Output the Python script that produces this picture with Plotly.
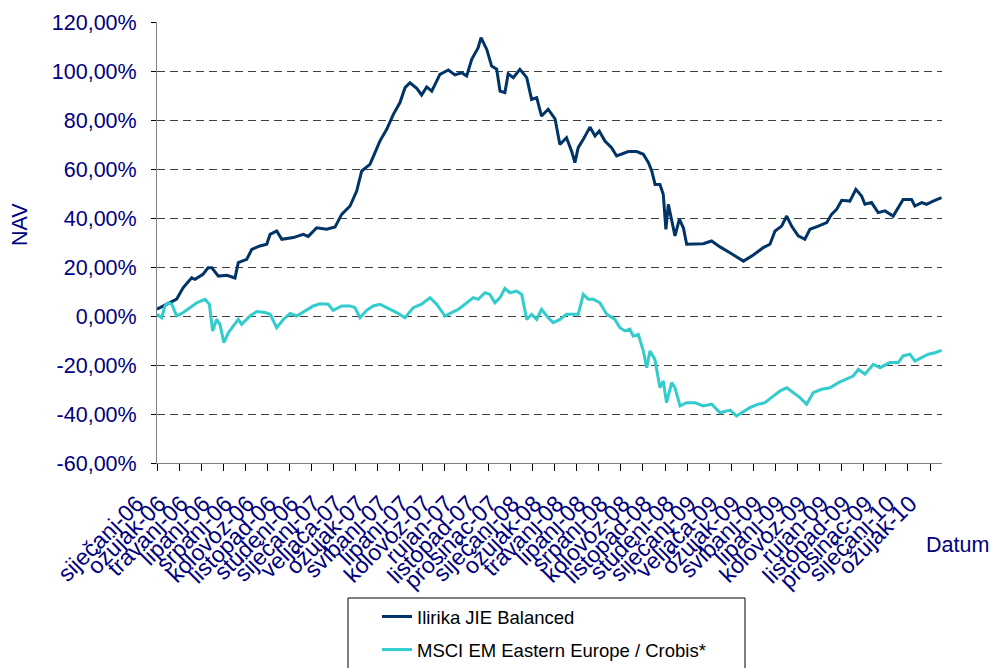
import plotly.graph_objects as go

# x positions are in units of the category tick spacing (tick i = label i)
tick_labels = ["siječanj-06", "ožujak-06", "travanj-06", "lipanj-06", "srpanj-06", "kolovoz-06",
               "listopad-06", "studeni-06", "siječanj-07", "veljača-07", "ožujak-07", "svibanj-07",
               "lipanj-07", "kolovoz-07", "rujan-07", "listopad-07", "prosinac-07", "siječanj-08",
               "ožujak-08", "travanj-08", "lipanj-08", "srpanj-08", "kolovoz-08", "listopad-08",
               "studeni-08", "siječanj-09", "veljača-09", "ožujak-09", "svibanj-09", "lipanj-09",
               "kolovoz-09", "rujan-09", "listopad-09", "prosinac-09", "siječanj-10", "ožujak-10"]

ilirika_x = [0.0, 0.59, 0.89, 1.19, 1.57, 1.72, 2.08, 2.31, 2.48, 2.78, 3.16, 3.53, 3.68, 4.06, 4.29,
             4.66, 4.97, 5.12, 5.42, 5.65, 6.17, 6.62, 6.85, 7.23, 7.68, 8.06, 8.36, 8.74, 9.04, 9.27,
             9.64, 9.87, 10.09, 10.40, 10.70, 11.00, 11.23, 11.45, 11.76, 11.98, 12.21, 12.44, 12.81,
             13.19, 13.49, 13.79, 14.02, 14.25, 14.54, 14.67, 14.93, 15.15, 15.38, 15.53, 15.75, 15.90,
             16.13, 16.43, 16.74, 16.96, 17.19, 17.41, 17.71, 18.02, 18.24, 18.54, 18.77, 18.92, 19.07,
             19.30, 19.60, 19.83, 20.02, 20.28, 20.58, 20.81, 21.04, 21.34, 21.72, 22.02, 22.25, 22.40,
             22.55, 22.77, 22.92, 23.04, 23.15, 23.30, 23.45, 23.65, 23.83, 23.98, 24.43, 24.73, 25.11,
             25.49, 25.94, 26.32, 26.55, 27.00, 27.45, 27.75, 27.98, 28.28, 28.51, 28.73, 29.03, 29.33,
             29.56, 29.94, 30.32, 30.54, 30.77, 31.00, 31.37, 31.64, 31.90, 32.05, 32.35, 32.65, 32.96,
             33.33, 33.56, 33.78, 34.16, 34.31, 34.62, 34.84, 35.14, 35.52]
ilirika_y = [2.8, 5.4, 6.9, 11.6, 15.6, 15.0, 17.0, 19.7, 19.7, 16.3, 16.6, 15.5, 21.8, 23.1, 27.2,
             28.6, 29.3, 33.3, 34.7, 31.3, 32.0, 33.3, 32.5, 36.0, 35.4, 36.3, 41.5, 44.9, 51.0, 59.2,
             61.9, 66.7, 71.4, 76.2, 82.3, 87.1, 93.2, 95.2, 92.9, 90.2, 93.5, 91.8, 98.6,
             100.4, 98.4, 99.3, 98.0, 104.8, 109.5, 113.6, 108.8, 102.0, 100.7, 91.8, 91.2, 98.9,
             97.3, 100.7, 97.3, 88.4, 89.1, 81.6, 84.4, 80.5, 70.0, 72.8, 67.3, 62.6, 68.7,
             72.1, 77.1, 73.5, 75.5, 71.4, 68.7, 65.3, 66.0, 67.1, 67.1, 66.0, 62.6, 59.2,
             53.7, 53.7, 49.7, 35.4, 45.6, 38.8, 32.7, 39.5, 36.0, 29.3, 29.3, 29.5, 30.6,
             28.2, 25.8, 23.8, 22.4, 24.9, 27.9, 29.3, 34.7, 36.7, 40.8, 36.7, 32.7, 31.3,
             35.4, 36.7, 38.1, 41.5, 43.5, 47.2, 46.9, 51.7, 49.0, 45.6, 46.3, 42.2, 42.9,
             40.8, 44.2, 47.6, 47.6, 44.9, 46.3, 45.6, 46.9, 48.3]

msci_x = [0.0, 0.21, 0.36, 0.51, 0.67, 0.89, 1.19, 1.49, 1.80, 2.17, 2.37, 2.52, 2.70, 2.85, 3.03,
          3.23, 3.53, 3.68, 3.83, 4.21, 4.51, 4.89, 5.12, 5.42, 5.72, 6.02, 6.32, 6.70, 7.08, 7.38,
          7.75, 7.98, 8.36, 8.74, 8.96, 9.19, 9.49, 9.79, 10.09, 10.40, 10.85, 11.23, 11.60, 11.98,
          12.36, 12.66, 13.04, 13.34, 13.64, 13.94, 14.32, 14.54, 14.85, 15.07, 15.30, 15.53, 15.75,
          15.98, 16.28, 16.51, 16.74, 16.96, 17.19, 17.41, 17.71, 17.94, 18.24, 18.54, 18.92, 19.07,
          19.30, 19.53, 19.75, 20.05, 20.36, 20.73, 20.96, 21.19, 21.41, 21.56, 21.79, 22.02, 22.17,
          22.32, 22.54, 22.77, 22.92, 23.07, 23.30, 23.45, 23.68, 23.98, 24.36, 24.73, 25.11, 25.49,
          25.94, 26.24, 26.47, 26.84, 27.22, 27.52, 27.90, 28.20, 28.51, 28.81, 29.11, 29.41, 29.71,
          30.09, 30.47, 30.85, 31.22, 31.52, 31.75, 32.05, 32.43, 32.73, 33.18, 33.56, 33.78, 34.09,
          34.31, 34.62, 34.92, 35.22, 35.52]
msci_y = [0.7, -0.7, 4.1, 5.4, 4.8, 0.0, 1.4, 3.4, 5.4, 6.8, 4.8, -6.1, -1.4, -3.4, -10.9,
          -6.8, -3.4, -1.4, -3.4, 0.0, 1.8, 1.4, 0.7, -4.8, -1.4, 1.0, 0.0, 2.0, 4.1, 5.0,
          4.8, 2.3, 4.1, 4.1, 3.4, -0.7, 2.3, 4.1, 4.8, 3.4, 1.4, -0.7, 3.4, 4.8,
          7.5, 4.8, 0.0, 1.4, 2.7, 4.8, 7.5, 6.8, 9.5, 8.8, 5.4, 7.5, 11.3,
          9.5, 10.2, 8.8, -1.4, 0.7, -1.4, 2.7, -0.7, -2.7, -1.4, 0.7, 0.7, 0.7,
          8.8, 6.8, 6.8, 5.4, 0.7, -1.4, -4.8, -6.1, -5.4, -8.2, -7.5, -14.3, -21.1,
          -14.3, -17.7, -29.3, -26.5, -35.4, -27.2, -29.3, -36.7, -35.4, -35.4, -36.7, -36.0, -39.5,
          -38.4, -40.8, -39.5, -37.4, -36.0, -35.4, -32.7, -30.6, -29.3, -31.3, -33.3, -36.0, -31.3,
          -29.9, -29.3, -27.2, -25.8, -24.5, -21.8, -23.8, -19.7, -21.1, -19.0, -19.0, -16.3, -15.6,
          -18.4, -17.0, -15.6, -15.0, -14.0]

y_ticks = [-60, -40, -20, 0, 20, 40, 60, 80, 100, 120]
y_tick_text = ["-60,00%", "-40,00%", "-20,00%", "0,00%", "20,00%", "40,00%", "60,00%",
               "80,00%", "100,00%", "120,00%"]

FONT = "Liberation Sans, Arial, sans-serif"
NAVY = "#000080"

fig = go.Figure()
fig.add_trace(go.Scatter(x=ilirika_x, y=ilirika_y, mode="lines", name="Ilirika JIE Balanced",
                         line=dict(color="#003366", width=3), legendgroup="a"))
fig.add_trace(go.Scatter(x=msci_x, y=msci_y, mode="lines", name="MSCI EM Eastern Europe / Crobis*",
                         line=dict(color="#33CCCC", width=3), legendgroup="b"))

L, R, T, B = 157, 50, 22, 205
W, H = 992, 668
pw, ph = W - L - R, H - T - B

def px_x(p):
    return (p - L) / pw

def px_y(p):
    return (H - B - p) / ph

fig.update_layout(
    width=W, height=H,
    margin=dict(l=L, r=R, t=T, b=B, pad=0, autoexpand=False),
    paper_bgcolor="white", plot_bgcolor="white",
    font=dict(family=FONT, size=21, color=NAVY),
    showlegend=True,
    legend=dict(x=px_x(377), y=px_y(598), xanchor="left", yanchor="top",
                bgcolor="rgba(0,0,0,0)", borderwidth=0,
                font=dict(family=FONT, size=18.5, color="black"),
                traceorder="grouped", tracegroupgap=6, itemwidth=30),
    xaxis=dict(range=[0, 35.54], tickmode="array", tickvals=list(range(len(tick_labels))),
               ticktext=tick_labels, tickangle=-45, ticks="outside", ticklen=7, tickcolor="black",
               showline=True, linecolor="#808080", linewidth=1, showgrid=False, zeroline=False,
               automargin=False, ticklabelstandoff=10, ticklabelshift=-20,
               tickfont=dict(family=FONT, size=23, color=NAVY)),
    yaxis=dict(range=[-60, 120], tickmode="array", tickvals=y_ticks, ticktext=y_tick_text,
               ticks="outside", ticklen=5, tickcolor="black", showline=True, linecolor="#808080",
               linewidth=1, showgrid=True, gridcolor="#404040", gridwidth=1, griddash="8px,5px",
               zeroline=False, ticklabelstandoff=10, automargin=False,
               tickfont=dict(family=FONT, size=21.5, color=NAVY)),
)

fig.add_annotation(text="NAV", xref="paper", yref="paper", x=px_x(20), y=px_y(225),
                   xanchor="center", yanchor="middle", showarrow=False, textangle=-90,
                   font=dict(family=FONT, size=21.5, color=NAVY))
fig.add_shape(type="rect", xref="paper", yref="paper",
              x0=px_x(348), x1=px_x(745), y0=px_y(598), y1=px_y(690),
              line=dict(color="black", width=1), fillcolor="rgba(0,0,0,0)", layer="above")
fig.add_annotation(text="Datum", xref="paper", yref="paper", x=px_x(957), y=px_y(545),
                   xanchor="center", yanchor="middle", showarrow=False,
                   font=dict(family=FONT, size=21.5, color=NAVY))

fig.write_html("out.html", config={"displayModeBar": False},
               post_script="document.body.style.margin='0px';")
